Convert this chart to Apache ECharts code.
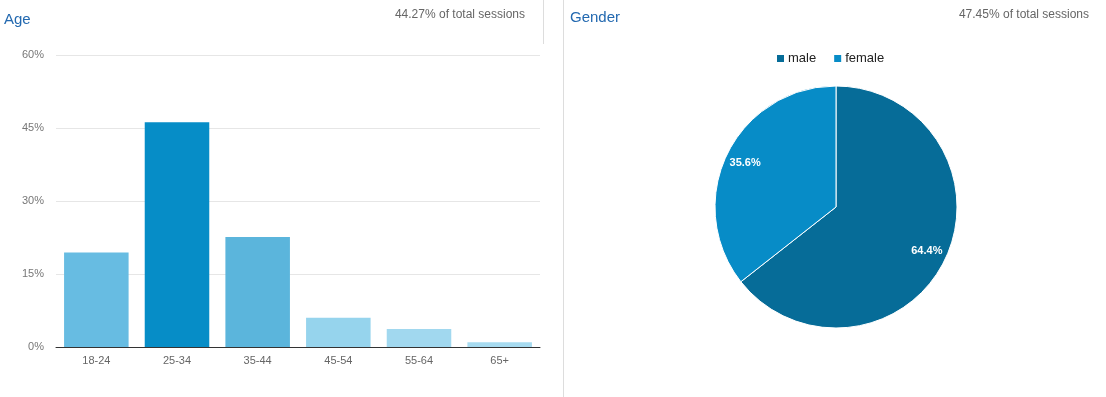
<!DOCTYPE html>
<html>
<head>
<meta charset="utf-8">
<script src="https://cdn.jsdelivr.net/npm/echarts@6/dist/echarts.min.js"></script>
<style>
  html, body { margin: 0; padding: 0; background: #fff; }
  #chart { width: 1106px; height: 397px; }
</style>
</head>
<body>
<div id="chart"></div>
<script>
// age buckets (share of sessions, %)
var ageGroups = ['18-24', '25-34', '35-44', '45-54', '55-64', '65+'];
var ageShare = [19.4, 46.2, 22.6, 6.0, 3.7, 1.0];
var ageColors = ['#67bce2', '#068dc7', '#5bb5dc', '#96d4ed', '#a1d8ef', '#a7dbf0'];
var ageTicks = [0, 15, 30, 45, 60];

// gender split
var genders = ['male', 'female'];
var genderShare = [64.4, 35.6];
var genderColors = ['#066c98', '#078cc7'];

var FONT = '"Liberation Sans", Arial, sans-serif';

var chart = echarts.init(document.getElementById('chart'));

var barData = ageShare.map(function (v, i) {
    return { value: v, itemStyle: { color: ageColors[i] } };
});
var pieData = genders.map(function (g, i) {
    return { name: g, value: genderShare[i], itemStyle: { color: genderColors[i] } };
});

chart.setOption({
    animation: false,
    textStyle: { fontFamily: FONT },
    title: [
        { text: 'Age', left: 4, top: 12, padding: 0,
          textStyle: { fontSize: 15, fontWeight: 'normal', color: '#2369b0', fontFamily: FONT } },
        { text: '44.27% of total sessions', right: 581, top: 9, padding: 0,
          textStyle: { fontSize: 12, fontWeight: 'normal', color: '#666', fontFamily: FONT } },
        { text: 'Gender', left: 570, top: 10, padding: 0,
          textStyle: { fontSize: 15, fontWeight: 'normal', color: '#2369b0', fontFamily: FONT } },
        { text: '47.45% of total sessions', right: 17, top: 9, padding: 0,
          textStyle: { fontSize: 12, fontWeight: 'normal', color: '#666', fontFamily: FONT } }
    ],
    legend: {
        data: genders,
        left: 775,
        top: 52,
        padding: 0,
        itemWidth: 9,
        itemHeight: 9,
        itemGap: 16,
        icon: 'rect',
        textStyle: { fontSize: 13, color: '#222', fontFamily: FONT, padding: [0, 0, 0, -2] }
    },
    grid: { left: 56, right: 566, top: 55, bottom: 50, containLabel: false },
    xAxis: {
        type: 'category',
        data: ageGroups,
        axisLine: { lineStyle: { color: '#333', width: 1 } },
        axisTick: { show: false },
        axisLabel: { color: '#666', fontSize: 11, margin: 8 }
    },
    yAxis: {
        type: 'value',
        min: ageTicks[0],
        max: ageTicks[ageTicks.length - 1],
        interval: 15,
        axisLine: { show: false },
        axisTick: { show: false },
        axisLabel: { color: '#777', fontSize: 11, margin: 12, formatter: '{value}%' },
        splitLine: { lineStyle: { color: '#e6e6e6' } }
    },
    series: [
        {
            type: 'bar',
            data: barData,
            barCategoryGap: '20%'
        },
        {
            type: 'pie',
            center: [836, 207],
            radius: [0, 121],
            startAngle: 90,
            clockwise: true,
            data: pieData,
            itemStyle: { borderColor: '#fff', borderWidth: 1 },
            label: { show: false },
            labelLine: { show: false },
            emphasis: { disabled: true }
        },
        {
            // transparent ring used only to place the percent labels further out
            type: 'pie',
            center: [836, 207],
            radius: [75, 121],
            startAngle: 90,
            clockwise: true,
            silent: true,
            data: genders.map(function (g, i) {
                return { name: g, value: genderShare[i], itemStyle: { color: 'rgba(0,0,0,0)' } };
            }),
            label: {
                show: true,
                position: 'inside',
                color: '#fff',
                fontSize: 11,
                fontWeight: 'bold',
                fontFamily: FONT,
                formatter: function (p) { return p.value.toFixed(1) + '%'; }
            },
            labelLine: { show: false },
            emphasis: { disabled: true }
        }
    ],
    graphic: [
        { type: 'line', shape: { x1: 543.5, y1: 0, x2: 543.5, y2: 44 }, style: { stroke: '#ddd', lineWidth: 1 } },
        { type: 'line', shape: { x1: 563.5, y1: 0, x2: 563.5, y2: 397 }, style: { stroke: '#ddd', lineWidth: 1 } }
    ]
});
</script>
</body>
</html>
